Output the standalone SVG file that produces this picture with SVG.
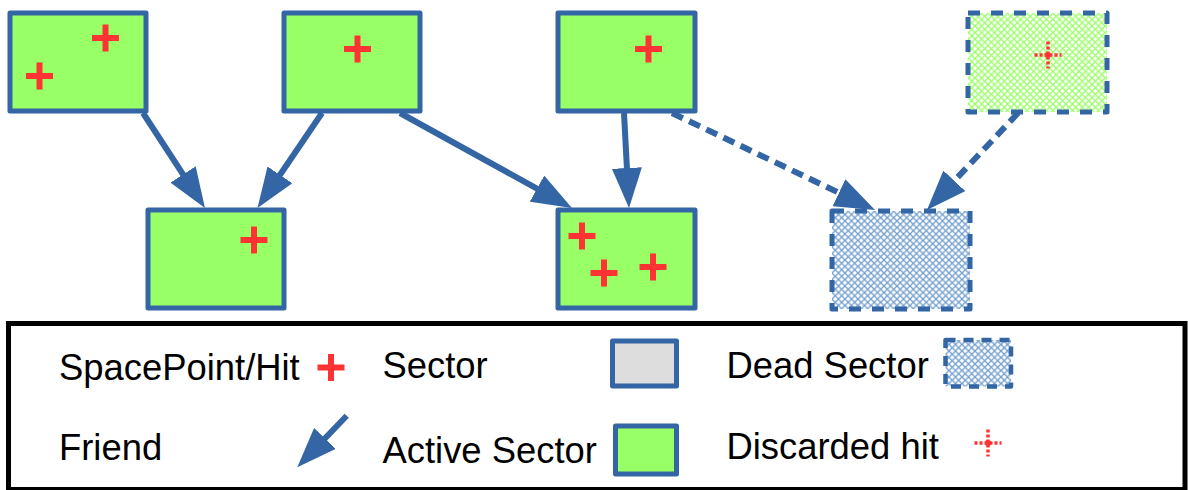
<svg xmlns="http://www.w3.org/2000/svg" width="1188" height="490" viewBox="0 0 1188 490">
<style>
.box{fill:#99ff66;stroke:#3465a4;stroke-width:5;stroke-linejoin:round}
.dead{fill:url(#hatchBlue);stroke:#3465a4;stroke-width:5;stroke-dasharray:12 11;stroke-linejoin:round}
.disc{fill:url(#hatchGreen);stroke:#3465a4;stroke-width:5;stroke-dasharray:12 11;stroke-linejoin:round}
.hit{stroke:#ff3333;stroke-width:6;fill:none}
.dhit{stroke:#ff3333;stroke-width:3.5;fill:none;stroke-dasharray:3 2}
.conn{stroke:#3465a4;stroke-width:6;fill:none;marker-end:url(#head)}
.dash{stroke-dasharray:12 7}
.lbl{font-family:"Liberation Sans",Arial,sans-serif;font-size:36.4px;fill:#000}
</style>
<defs>
<marker id="head" markerUnits="userSpaceOnUse" markerWidth="40" markerHeight="30" refX="30" refY="15" orient="auto" viewBox="0 0 40 30">
<path d="M0,0 L40,15 L0,30 Z" fill="#3465a4"/>
</marker>
<pattern id="hatchBlue" patternUnits="userSpaceOnUse" width="6.5" height="6.5">
<rect width="6.5" height="6.5" fill="#ffffff"/>
<path d="M0,0 L6.5,6.5 M6.5,0 L0,6.5" stroke="#729fcf" stroke-width="1.3"/>
</pattern>
<pattern id="hatchGreen" patternUnits="userSpaceOnUse" width="6.5" height="6.5">
<rect width="6.5" height="6.5" fill="#ffffff"/>
<path d="M0,0 L6.5,6.5 M6.5,0 L0,6.5" stroke="#99ff66" stroke-width="1.3"/>
</pattern>
<g id="cross"><path class="hit" d="M-13.5,0 H13.5 M0,-13.5 V13.5"/></g>
<g id="dcross"><path class="dhit" d="M-13.5,0 H13.5 M0,-13.5 V13.5"/><rect x="-2.5" y="-2.5" width="5" height="5" fill="#ff3333"/></g>
</defs>

<g id="connectors">
<path class="conn" d="M143,113 L199.5,199.6"/>
<path class="conn" d="M322,113 L263.1,199.7"/>
<path class="conn" d="M400,113 L563.2,203.2"/>
<path class="conn" d="M624,113 L628.5,198"/>
<path class="conn dash" d="M672,113 L866,205.7"/>
<path class="conn dash" d="M1018,113 L933.8,202.7"/>
</g>

<g id="sector1"><rect class="box" x="10" y="13" width="136" height="98"/><use href="#cross" x="39.5" y="76"/><use href="#cross" x="105.5" y="38"/></g>
<g id="sector2"><rect class="box" x="284" y="13" width="136" height="98"/><use href="#cross" x="357.5" y="49"/></g>
<g id="sector3"><rect class="box" x="558" y="13" width="137" height="98"/><use href="#cross" x="648.5" y="49"/></g>
<g id="sector-discarded"><rect class="disc" x="968" y="13" width="139" height="99"/><use href="#dcross" x="1048" y="55"/></g>
<g id="sector4"><rect class="box" x="148" y="210" width="136" height="98"/><use href="#cross" x="254" y="240"/></g>
<g id="sector5"><rect class="box" x="558" y="210" width="137" height="98"/><use href="#cross" x="582" y="236"/><use href="#cross" x="604" y="273"/><use href="#cross" x="653" y="267"/></g>
<g id="sector-dead"><rect class="dead" x="832" y="211" width="138" height="98"/></g>

<g id="legend">
<rect x="8.5" y="323.5" width="1176.5" height="166" fill="none" stroke="#000" stroke-width="5"/>
<text class="lbl" x="59" y="380">SpacePoint/Hit</text>
<use href="#cross" x="331" y="367.5"/>
<text class="lbl" x="59" y="460">Friend</text>
<path class="conn" d="M346.7,415.7 L304.2,460.1"/>
<text class="lbl" x="382.5" y="378">Sector</text>
<rect x="612.5" y="341" width="64" height="45" fill="#dddddd" stroke="#3465a4" stroke-width="5" stroke-linejoin="round"/>
<text class="lbl" x="382.5" y="462.5">Active Sector</text>
<rect class="box" x="615.5" y="426" width="61" height="48"/>
<text class="lbl" x="726.5" y="378">Dead Sector</text>
<rect x="945.5" y="340" width="65.5" height="46.5" fill="url(#hatchBlue)" stroke="#3465a4" stroke-width="4.5" stroke-dasharray="10 8" stroke-linejoin="round"/>
<text class="lbl" x="726.5" y="459">Discarded hit</text>
<use href="#dcross" x="988" y="443"/>
</g>
</svg>
